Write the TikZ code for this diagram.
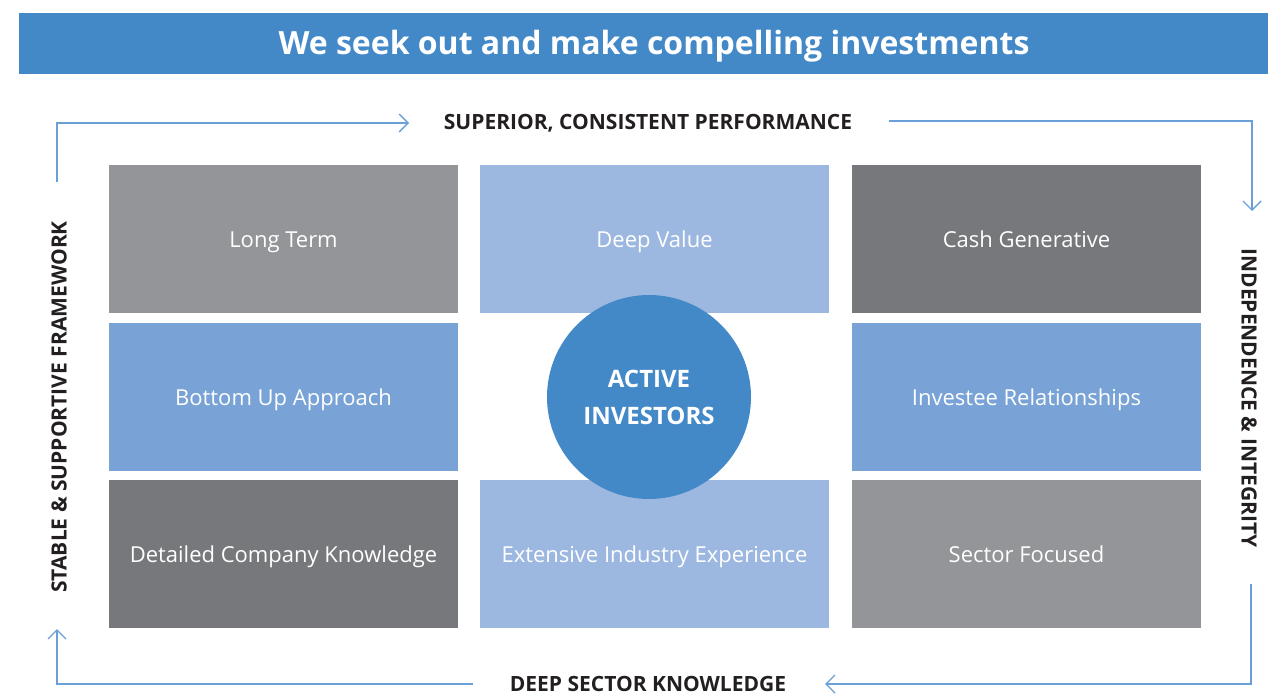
\documentclass[tikz,border=0pt]{standalone}
\usepackage{fontspec}
\setmainfont{Open Sans}
\usetikzlibrary{arrows.meta}
\definecolor{titleblue}{HTML}{4389C8}
\definecolor{circblue}{HTML}{4389C8}
\definecolor{lgray}{HTML}{939598}
\definecolor{dgray}{HTML}{77787B}
\definecolor{lblue}{HTML}{9DB8E0}
\definecolor{mblue}{HTML}{79A3D6}
\definecolor{arrowblue}{HTML}{6A9FD8}
\definecolor{headtext}{HTML}{231F20}
\begin{document}
\begin{tikzpicture}[x=1pt,y=-1pt,
  box/.style={minimum width=349pt, minimum height=148pt, inner sep=0pt, text=white,
    text height=16pt, text depth=0pt, font=\fontsize{22}{26}\selectfont},
  head/.style={text=headtext, inner sep=0pt, text height=15pt, text depth=0pt,
    font=\fontsize{21}{25}\selectfont\bfseries},
  frame/.style={draw=arrowblue, line width=1.4pt, -{Straight Barb[length=9pt,width=18pt,line width=1.4pt]}}
]
\useasboundingbox (0,0) rectangle (1268,695);
% title bar
\node[fill=titleblue, minimum width=1249pt, minimum height=60.5pt, inner sep=0pt, anchor=north west] (titlebar) at (19,13) {};
\node[text=white, inner sep=0pt, anchor=base, font=\fontsize{32}{38}\selectfont\bfseries] (title) at (654,55) {We seek out and make compelling investments};
% boxes
\node[box, fill=lgray] (b11) at (283.5,239) {Long Term};
\node[box, fill=lblue] (b12) at (654.5,239) {Deep Value};
\node[box, fill=dgray] (b13) at (1026.5,239) {Cash Generative};
\node[box, fill=mblue] (b21) at (283.5,397) {Bottom Up Approach};
\node[box, fill=mblue] (b23) at (1026.5,397) {Investee Relationships};
\node[box, fill=dgray] (b31) at (283.5,554) {Detailed Company Knowledge};
\node[box, fill=lblue] (b32) at (654.5,554) {Extensive Industry Experience};
\node[box, fill=lgray] (b33) at (1026.5,554) {Sector Focused};
% circle
\node[circle, fill=circblue, minimum size=204pt, inner sep=0pt, align=center, text=white,
  font=\fontsize{24}{37}\selectfont\bfseries] (act) at (649,397) {ACTIVE\\INVESTORS};
% headings
\node[head] (top) at (648,122) {SUPERIOR, CONSISTENT PERFORMANCE};
\node[head] (bot) at (648,684) {DEEP SECTOR KNOWLEDGE};
\node[head, rotate=90] (left) at (59,407) {STABLE \& SUPPORTIVE FRAMEWORK};
\node[head, rotate=-90] (right) at (1249,398) {INDEPENDENCE \& INTEGRITY};
% frame arrows
\coordinate (tl0) at (57,182);
\coordinate (tl1) at (409,123);
\coordinate (tr0) at (889,121);
\coordinate (tr1) at (1252,211);
\coordinate (br0) at (1251,584);
\coordinate (br1) at (825,684);
\coordinate (bl0) at (473,684);
\coordinate (bl1) at (57,629);
\draw[frame] (tl0) |- (tl1);
\draw[frame] (tr0) -| (tr1);
\draw[frame] (br0) |- (br1);
\draw[frame] (bl0) -| (bl1);
\end{tikzpicture}
\end{document}
